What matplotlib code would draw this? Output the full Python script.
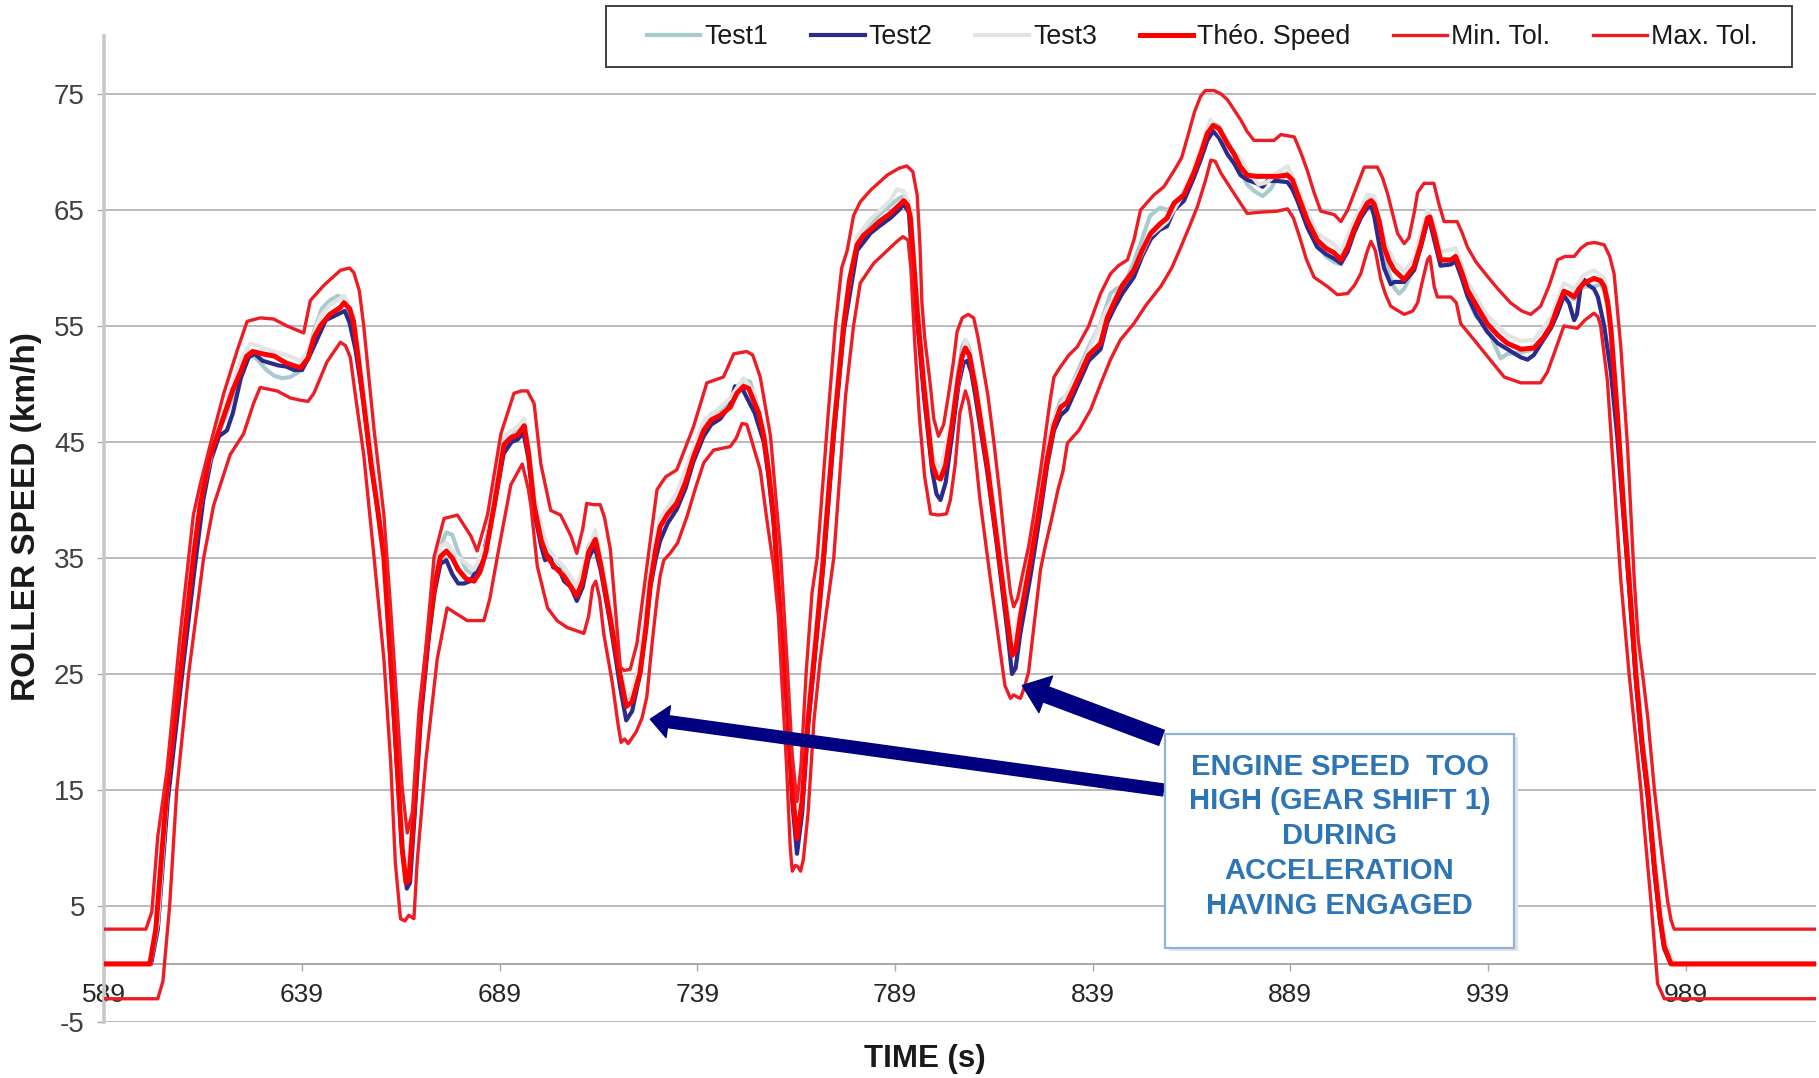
import matplotlib
matplotlib.use('Agg')
import matplotlib.pyplot as plt
from matplotlib.patches import Rectangle

plt.rcParams['font.family'] = ['Liberation Sans', 'DejaVu Sans']
plt.rcParams['axes.unicode_minus'] = False

# (time s, roller speed km/h)
THEO = [
    (589, 0), (600.5, 0), (602, 3), (604.8, 15), (608.2, 25), (611.5, 35), (613.2, 39.5),
    (615.5, 43.5), (617.5, 45.5), (619.5, 47.5), (621.5, 49.5), (623.4, 51), (625, 52.4),
    (626.5, 52.8), (629, 52.6), (632, 52.4), (635, 51.8), (638.6, 51.4), (640.5, 52.2),
    (642, 54), (643.6, 55), (646, 56), (648.7, 56.6), (649.6, 57), (651, 56.5), (652, 55.4),
    (653.3, 52), (654.6, 48.3), (656.5, 43), (658, 39.5), (659.7, 35.1), (661.4, 26.3),
    (663, 17.5), (664.3, 10), (665.3, 7), (666, 7.2), (667.3, 13), (669, 21.9), (671, 28.5),
    (672.5, 32.5), (674, 35.1), (675.5, 35.6), (677, 35), (678.5, 34), (680.5, 33.2),
    (682.5, 33), (684, 33.8), (685.5, 35.5), (687.6, 39.5), (690.1, 44.8), (692, 45.4),
    (693.5, 45.6), (695.2, 46.4), (696.3, 44), (697.7, 39.5), (699.5, 36.5), (701, 35.1),
    (703, 34.2), (705.3, 33.4), (707, 32.5), (708.5, 31.7), (710, 33), (711.5, 35.5),
    (713.2, 36.6), (714.5, 34.5), (716.9, 29.9), (719.5, 24.8), (721, 22.2), (722.5, 22.6),
    (724.5, 25.1), (726, 29), (727.1, 32.8), (728.5, 35.8), (729.6, 37.7), (731.5, 38.8),
    (733.8, 39.7), (736, 41.5), (738, 43.7), (740.6, 46), (742.5, 46.9), (744.8, 47.3),
    (747.3, 48), (749, 49.2), (750.7, 49.8), (752, 49.6), (753.2, 48.6), (754.5, 47.5),
    (755.8, 45.5), (757, 42.5), (758.3, 38.6), (760, 29.9), (761.7, 22.8), (763, 15),
    (764.2, 10.8), (765.5, 14), (767, 21), (769, 28), (770.9, 35), (772.3, 41), (773.5, 46),
    (776, 55), (777.5, 59), (779.4, 62), (781, 62.8), (782.8, 63.3), (785, 64), (787.8, 64.7),
    (790, 65.4), (791.2, 65.8), (792.2, 65.4), (792.9, 64.3), (794.6, 56.3), (796.3, 49.8),
    (798.4, 43.1), (799.5, 42), (800.5, 41.8), (801.8, 43), (803.4, 46.4), (805, 50.5),
    (806, 52.4), (806.8, 53.1), (807.8, 52.5), (809.3, 49.8), (812.3, 43.1), (814.8, 36.5),
    (817.3, 29.9), (818.6, 26.6), (819.5, 27), (820.7, 29.9), (823.3, 34.8), (825.8, 39.8),
    (827.5, 43.5), (829.2, 46.4), (830.9, 48), (832.5, 48.4), (835.1, 50.3), (838, 52.5),
    (841, 53.5), (842.7, 55.7), (844.4, 57), (846.5, 58.5), (849.4, 59.8), (851.5, 61.5),
    (853.7, 63), (856, 63.8), (857.8, 64.3), (859.6, 65.6), (862.1, 66.3), (864.6, 68.2),
    (866.5, 70), (868, 71.6), (869.5, 72.3), (871, 72), (873.1, 70.7), (874.8, 69.8),
    (876.4, 68.7), (878.1, 68), (880.5, 67.9), (883.2, 67.9), (885.7, 67.9), (888.3, 68),
    (889.5, 67.6), (890.8, 66.4), (893.3, 64.1), (895.8, 62.4), (898, 61.7), (900.1, 61.3),
    (901.8, 60.7), (903.5, 61.8), (905.1, 63.3), (906.8, 64.6), (908.5, 65.6), (909.5, 65.8),
    (910.2, 65.5), (911.5, 64), (912.7, 61.8), (914, 60.6), (915.3, 59.8), (917.8, 59),
    (920.3, 60.1), (922, 62), (923.7, 64.3), (924.3, 64.4), (925.4, 63), (927, 60.7),
    (929.6, 60.7), (930.8, 61), (932.5, 59.5), (933.8, 58.1), (936, 56.8), (938.8, 55.2),
    (941.5, 54.2), (943.9, 53.5), (947.3, 53), (950.6, 53.1), (953, 54), (954.9, 55),
    (956.5, 56.5), (958.2, 58), (959.5, 57.8), (960.8, 57.5), (962, 58.2), (963.3, 58.7),
    (965.8, 59.1), (967.5, 58.9), (968.4, 58.4), (969.3, 57), (970.1, 54.7), (971.7, 47.5),
    (973.4, 38.9), (974.7, 33.1), (976.4, 25), (978, 19), (979.4, 15), (981.1, 8.4),
    (982.5, 4), (983.6, 1.5), (985.3, 0), (1022, 0),
]

MAX_TOL = [
    (589, 3), (599.5, 3), (601, 4.5), (602.5, 11), (604.8, 16.6), (608.2, 28.5), (611.5, 38.7),
    (613.2, 41.3), (615.8, 44.8), (619.2, 49.2), (622.5, 52.8), (625.1, 55.4), (628.4, 55.7),
    (631.8, 55.6), (635.2, 55), (639.4, 54.4), (641.1, 57.2), (644.5, 58.5), (648.7, 59.8),
    (651, 60), (652.1, 59.6), (653.5, 58), (654.6, 55), (657.2, 46.1), (659.7, 38.7),
    (661.4, 30.7), (663.1, 21.9), (664.3, 15.3), (665.6, 11.3), (666.9, 13.1), (668.6, 21.9),
    (670.3, 27.2), (672.4, 35.1), (674.9, 38.4), (678.3, 38.7), (681.7, 36.9), (683.3, 35.6),
    (685.9, 38.7), (689.3, 45.7), (692.6, 49.2), (694.5, 49.4), (696, 49.4), (697.7, 48.3),
    (699.4, 43.1), (701.9, 39.1), (704.4, 38.7), (707, 36.9), (708.5, 35.4), (710, 37.5),
    (711, 39.7), (712.7, 39.6), (714.4, 39.6), (715.5, 38.5), (717, 35.7), (719.5, 25.6),
    (720.5, 25.3), (722, 25.4), (723.7, 27.6), (726.2, 34.2), (728.8, 40.9), (731, 42),
    (733.8, 42.6), (738, 46.3), (741.4, 50.1), (745.6, 50.6), (748.2, 52.6), (751.5, 52.8),
    (753, 52.5), (754.9, 50.6), (757.5, 45.5), (760, 35.7), (761.7, 26), (763, 18),
    (764.2, 14), (765.2, 17), (766.5, 25), (768, 32), (769.3, 35), (772, 47), (773.9, 55),
    (775.5, 60), (776.9, 61.5), (778.5, 64.5), (780.2, 65.7), (782.8, 66.7), (787, 68),
    (790, 68.6), (792, 68.8), (793.5, 68.3), (794.6, 66.3), (795.3, 62), (795.8, 57),
    (796.5, 54), (797.9, 50), (798.8, 47), (800, 45.5), (801.3, 46.5), (802.5, 49),
    (803.8, 52), (804.7, 54.5), (806, 55.7), (807.5, 56), (808.9, 55.7), (810, 54), (811, 52),
    (812.5, 49), (814, 45), (815.5, 40.5), (817, 35.5), (818.2, 32), (819, 30.8), (820, 31.5),
    (821.2, 33.5), (822.8, 36), (824, 38.5), (825.8, 42.5), (827, 45.5), (828.2, 48.5),
    (829.2, 50.6), (830.9, 51.5), (833, 52.5), (835.1, 53.2), (838, 55), (841, 57.8),
    (843.5, 59.5), (845.5, 60.2), (847.8, 60.7), (849.5, 62.5), (851.1, 65), (854.5, 66.3),
    (857, 67), (859.6, 68.4), (861.5, 69.5), (863, 71.3), (864.8, 73.5), (866.3, 74.8),
    (867.5, 75.3), (869.7, 75.3), (871.5, 75), (873.1, 74.5), (876.4, 72.8), (878, 71.8),
    (879.8, 71), (884.9, 71), (886.6, 71.5), (890, 71.3), (891.6, 70), (893.3, 68.4),
    (895, 66.5), (896.7, 64.9), (900.1, 64.6), (901.8, 64), (903.5, 65), (905.1, 66.4),
    (907.7, 68.7), (911, 68.7), (912.3, 67.8), (913.6, 66.4), (916.1, 63), (917.8, 62.1),
    (919, 62.6), (920.3, 64.7), (921.2, 66.5), (922.8, 67.3), (925.3, 67.3), (926.6, 65.5),
    (927.9, 64), (931.2, 64), (932.5, 63), (933.8, 61.8), (936, 60.5), (938.8, 59.3),
    (941.5, 58.2), (944.7, 57), (947.5, 56.3), (949.8, 56), (952.3, 56.7), (954.5, 58.5),
    (956.6, 60.7), (958.5, 61), (960.8, 61), (962.5, 61.7), (964.1, 62.1), (966, 62.2),
    (968.4, 62), (969.8, 61), (970.9, 59.5), (972.6, 53.2), (974.3, 44.6), (976, 33.1),
    (977, 28), (978.1, 25), (979.4, 21.3), (981.1, 15), (982.8, 10), (984.4, 5.5),
    (985.3, 3.8), (986.1, 3), (1022, 3),
]

MIN_TOL = [
    (589, -3), (602.5, -3), (603.8, -1.5), (605.5, 5), (607.3, 15), (610.3, 25), (614.1, 35),
    (616.6, 39.5), (620.8, 43.9), (624.2, 45.7), (626.7, 48.3), (628.4, 49.7), (632.7, 49.4),
    (636, 48.8), (638.6, 48.6), (640.5, 48.5), (642, 49.2), (645.3, 51.9), (648.7, 53.6),
    (650, 53.3), (651.2, 52.3), (652.5, 49), (654.6, 43.9), (657.2, 35.1), (659.7, 26.3),
    (661.4, 17.5), (662.6, 8.7), (663.9, 3.9), (665, 3.7), (666, 4.2), (667.3, 3.9),
    (668.1, 8.7), (670.3, 17.5), (673.2, 26.3), (675.7, 30.7), (678, 30.2), (680.8, 29.6),
    (685, 29.6), (686.5, 31.5), (688.4, 35.1), (691.8, 41.3), (694.7, 43.1), (696.2, 41),
    (696.9, 39.5), (698.5, 34.3), (701.1, 30.7), (703.5, 29.6), (706.1, 29), (710.3, 28.5),
    (711.5, 30), (712.5, 32.5), (713.3, 33), (714.3, 31.5), (715.3, 28.5), (717.5, 24.2),
    (719, 20.5), (719.7, 19.1), (720.6, 19.4), (721.5, 19), (723.5, 20), (725, 21.2),
    (726.2, 23), (727.5, 27.5), (728.8, 31.5), (729.6, 33.5), (730.5, 34.8), (732.1, 35.4),
    (734, 36.3), (736.4, 38.6), (738.5, 41), (740.6, 43.2), (743.1, 44.3), (747.3, 44.6),
    (748.8, 45.3), (750.3, 46.6), (751.5, 46.5), (752.4, 45.5), (754.9, 42.6), (756.5, 38.5),
    (758.3, 34.2), (759.5, 30), (760.4, 24.2), (761.5, 17.5), (762.5, 10), (763, 8),
    (763.8, 8.5), (764.4, 8.4), (765.1, 8), (765.8, 9), (767, 13), (768.5, 21), (770, 26),
    (771.5, 30), (773.5, 35), (775, 42), (776.5, 49), (778.5, 55), (780.2, 58.7),
    (783.6, 60.4), (787, 61.5), (789.5, 62.3), (791, 62.7), (792.3, 62.4), (793, 60),
    (794, 53.5), (795.2, 47), (796.5, 42), (798, 38.8), (800, 38.7), (802, 38.8), (803, 40),
    (804.2, 43), (805.4, 47.5), (806.8, 49.4), (807.6, 48.5), (808.5, 46.5), (810.5, 40),
    (813, 33.5), (815, 28.5), (816.8, 24), (818.2, 22.9), (819, 23.2), (820, 23),
    (820.7, 22.9), (821.7, 23.8), (822.8, 25.2), (825.8, 34), (827, 36), (828.7, 38.5),
    (830.3, 41), (831.5, 42.5), (832.6, 44.9), (835.5, 46), (838.5, 47.8), (841, 50),
    (843.5, 52.1), (846, 53.8), (849.4, 55.2), (852.5, 56.8), (856.2, 58.4), (859, 60),
    (861.3, 61.8), (863.5, 63.6), (865.5, 65.3), (867.5, 67.5), (868.9, 69.3), (870, 69.2),
    (871.4, 68.2), (874.8, 66.4), (878.1, 64.7), (881, 64.8), (885.7, 64.9), (888.3, 65.1),
    (889.8, 64.3), (891.6, 62.4), (893, 60.8), (895, 59.2), (898.4, 58.4), (900.9, 57.7),
    (903.5, 57.8), (905.2, 58.5), (906.8, 59.5), (908.5, 61.5), (909.4, 62.3), (910.5, 61.5),
    (911.9, 59), (913, 57.8), (914.4, 56.7), (917.8, 56), (920, 56.3), (921.2, 57),
    (922.5, 59), (923.7, 60.7), (924.3, 61), (925.4, 58.4), (926.2, 57.5), (929.6, 57.5),
    (931, 57), (932.1, 55.2), (935.5, 53.8), (938.8, 52.4), (943.1, 50.6), (947.3, 50.1),
    (952.3, 50.1), (954, 51), (955.7, 52.6), (958.2, 55), (961.6, 54.8), (963.5, 55.5),
    (965.8, 56.1), (966.8, 55.8), (967.5, 55), (969.2, 50.3), (970.9, 41.7), (972.6, 33.1),
    (974.7, 25), (976.2, 20), (977.7, 15), (979, 10), (980.2, 5.5), (981.9, -1.7),
    (983.6, -3), (1022, -3),
]

TEST1 = [
    (589, 0), (600.8, 0), (602.5, 3), (605, 14.5), (608.5, 25), (611.8, 34.5), (614, 40.5),
    (616, 44), (618, 46), (620, 47.5), (622, 49.5), (624, 51.5), (626, 52.6), (628, 52),
    (630, 51.2), (632, 50.7), (634, 50.5), (636, 50.6), (638, 51), (640, 52), (642, 54.5),
    (644, 56.5), (646, 57.2), (648, 57.6), (649.5, 57.4), (651, 56.2), (652.5, 53.5),
    (654.6, 49), (656.5, 44), (658, 40), (659.7, 35.5), (661.4, 27), (663, 18), (664.3, 10.5),
    (665.5, 7.5), (666.5, 8), (667.5, 13.5), (669, 22), (671, 29), (672.5, 33.5), (674, 36),
    (675.5, 37.2), (677, 37), (678.5, 35.5), (680.5, 34), (682.5, 33.5), (684, 34.2),
    (685.5, 36), (687.6, 40), (690, 45), (692, 45.8), (694, 46.2), (695.2, 46.6), (696.3, 44.5),
    (697.7, 40), (699.5, 37), (701, 35.8), (703, 35), (705.3, 34), (707, 33), (708.5, 32.3),
    (710, 33.5), (711.5, 36), (713.2, 37), (714.5, 35), (716.9, 30.5), (719.5, 25.3),
    (721, 22.8), (722.5, 23.2), (724.5, 26), (726, 30), (727.1, 33.5), (728.5, 36.5),
    (729.6, 38.2), (731.5, 39.3), (733.8, 40.2), (736, 42), (738, 44.2), (740.6, 46.5),
    (742.5, 47.4), (744.8, 47.8), (747.3, 48.6), (749, 49.8), (751, 50.3), (752.3, 50.2),
    (753.5, 49), (755, 47), (756.5, 44), (758.3, 39), (760, 30.5), (761.7, 23.5), (763, 15.5),
    (764.2, 11.5), (765.5, 14.5), (767, 21.5), (769, 28.5), (770.9, 35.5), (773.5, 46.5),
    (776, 55.5), (779.4, 62.5), (782.8, 63.8), (785, 64.6), (787.8, 65.4), (790, 66),
    (791.2, 66.2), (792.2, 65.8), (792.9, 64.8), (794.6, 57), (796.3, 50.5), (798.4, 43.8),
    (799.5, 42.6), (800.5, 42.4), (801.8, 43.6), (803.4, 47), (805, 51.2), (806, 53.2),
    (806.8, 53.8), (807.8, 53), (809.3, 50.4), (812.3, 43.6), (814.8, 37), (817.3, 30.5),
    (818.6, 27.4), (819.5, 27.8), (820.7, 30.6), (823.3, 35.5), (825.8, 40.5), (827.5, 44.5),
    (829.2, 47), (830.9, 48.6), (832.5, 49), (835.1, 51), (838, 53.2), (841, 55.2),
    (843.5, 57.8), (845, 58.2), (847, 58.5), (849.4, 60.5), (851.5, 62.5), (853.5, 64.5),
    (856, 65.2), (858, 65), (860, 65.5), (862.1, 66.6), (864.6, 68.5), (866.5, 70.3),
    (868, 71.8), (869.5, 72.5), (871, 72.2), (873.1, 70.9), (874.8, 69.8), (876.4, 68.4),
    (878.1, 67.2), (880, 66.6), (882, 66.2), (884, 66.8), (885.7, 67.8), (888.3, 68.2),
    (889.5, 67.8), (890.8, 66.6), (893.3, 64), (895.8, 62), (898, 61), (900.1, 60.5),
    (901.8, 60.3), (903.5, 61.8), (905.1, 63.6), (906.8, 65), (908.5, 66), (909.5, 66),
    (910.2, 65.6), (911.5, 64), (912.7, 61.5), (914, 59.5), (915.3, 58.3), (916.5, 57.8),
    (917.8, 58.2), (920.3, 60), (922, 62.2), (923.7, 64.6), (924.3, 64.6), (925.4, 63),
    (927, 60.5), (929.6, 60.4), (930.8, 60.6), (932.5, 59), (933.8, 57.5), (936, 55.8),
    (938.8, 55), (940.5, 53.5), (942.2, 52.2), (943.9, 52.6), (947.3, 52.7), (950.6, 53),
    (953, 54), (954.9, 55), (956.5, 56.4), (958.2, 57.8), (959.5, 57.6), (960.8, 57.3),
    (962, 58), (963.3, 58.4), (965.8, 58.4), (967.5, 58.6), (968.4, 58), (969.3, 56.5),
    (970.1, 54.2), (971.7, 47), (973.4, 38.5), (974.7, 32.5), (976.4, 24.5), (978, 18.5),
    (979.4, 14.5), (981.1, 8), (982.5, 3.8), (983.6, 1.3), (985.3, 0), (1022, 0),
]

TEST2 = [
    (589, 0), (600.8, 0), (602.5, 3), (605, 14), (608.5, 24.5), (611.8, 34), (614, 40),
    (616, 43.5), (618, 45.5), (620, 46), (621.5, 47.5), (623.5, 50.5), (625.5, 52.3),
    (627, 52.6), (629, 52), (631, 51.8), (633, 51.6), (635, 51.5), (637, 51.2), (639, 51.2),
    (641, 52.5), (643, 54), (645, 55.5), (648, 56), (649.8, 56.3), (651, 55.3), (652.5, 53),
    (654.6, 48.3), (656.5, 43), (658, 39.5), (659.7, 35), (661.4, 26), (663, 17), (664.3, 10),
    (665.5, 6.5), (666.3, 7), (667.5, 13), (669, 21), (671, 28), (672.5, 32), (674, 34.5),
    (675.5, 34.8), (677, 33.6), (678.5, 32.8), (680, 32.8), (681.5, 33), (683, 33.8),
    (685, 35.5), (687.6, 39.5), (690, 44), (692, 45), (693.5, 45.2), (695, 45.8), (696.3, 43.5),
    (697.7, 39), (699.5, 36), (700.5, 34.8), (701.5, 35.6), (702.5, 34.2), (704, 34),
    (705.3, 33), (707, 32.5), (708.5, 31.3), (710, 32.5), (711.5, 35), (713, 36), (714.5, 34),
    (716.9, 29.5), (719.5, 23.8), (721, 21), (722.5, 21.8), (724.5, 25), (726, 29),
    (727.1, 32.5), (728.5, 35), (729.6, 36.5), (731.5, 38), (733.8, 39.2), (736, 41),
    (738, 43.3), (740.6, 45.5), (742.5, 46.5), (744.8, 47), (747.3, 48.2), (748.5, 49.8),
    (750.5, 49.5), (752, 48.5), (753.5, 47.5), (755.8, 45), (757, 42), (758.3, 38), (760, 29.5),
    (761.7, 22), (763, 14), (764.2, 9.5), (765.5, 13), (767, 20.5), (769, 27.5), (770.9, 34.5),
    (773.5, 45.5), (776, 54.5), (779.4, 61.5), (782.8, 63), (785, 63.6), (787.8, 64.3),
    (790, 65), (791.2, 65.5), (792.5, 64.8), (793.5, 60), (794.6, 55.5), (796.3, 49),
    (798.4, 42.5), (799.5, 40.5), (800.5, 40), (801.8, 41.5), (803.4, 45.5), (805, 49.8),
    (806.3, 51.8), (807.3, 52), (808.3, 51), (809.3, 49), (812.3, 42.5), (814.8, 36),
    (817.3, 29), (818.6, 25), (819.5, 25.5), (820.7, 28.5), (822, 31), (823.3, 33.5),
    (825.8, 39), (827.5, 43), (829.2, 46), (830.9, 47.3), (832.5, 47.8), (835.1, 49.8),
    (838, 52), (841, 53), (842.7, 55.3), (844.4, 56.5), (846.5, 57.8), (849.4, 59.2),
    (851.5, 61), (853.7, 62.5), (856, 63.3), (857.8, 63.6), (859.6, 65), (862.1, 65.8),
    (864.6, 67.8), (866.5, 69.5), (868, 71), (869.5, 71.8), (871, 71.2), (873.1, 69.8),
    (874.8, 69), (876.4, 68), (878.1, 67.6), (880.5, 67.3), (882, 67), (883.2, 67.5),
    (885.7, 67.5), (888.3, 67.4), (889.5, 66.8), (890.8, 65.8), (893.3, 63.5), (895.8, 61.8),
    (898, 61.2), (900.1, 60.8), (901.8, 60.4), (903.5, 61.4), (905.1, 63), (906.8, 64.3),
    (908.5, 65.2), (909.5, 65.3), (910.2, 64.5), (911.5, 62), (912.7, 60), (914.4, 58.6),
    (915.3, 58.8), (917.8, 58.8), (920.3, 59.8), (922, 61.8), (923.7, 64), (924.3, 64),
    (925.4, 62.4), (927, 60.2), (929.6, 60.3), (930.8, 60.6), (932.5, 59), (933.8, 57.6),
    (936, 56), (938.8, 54.5), (941.5, 53.5), (943.9, 53), (947.3, 52.3), (949, 52.1),
    (950.6, 52.5), (953, 53.8), (954.9, 54.8), (956.5, 56), (958.2, 57.6), (959.5, 57),
    (960.8, 55.5), (961.5, 56), (962.5, 58.5), (963.3, 59), (964.5, 58.5), (965.8, 58.2),
    (966.8, 57.5), (968.4, 55), (970.1, 51), (971.7, 45.5), (973.4, 38), (974.7, 32.5),
    (976.4, 24.5), (978, 18.5), (979.4, 14.5), (981.1, 8), (982.5, 3.8), (983.6, 1.3),
    (985.3, 0), (1022, 0),
]

TEST3 = [
    (589, 0), (600.6, 0), (602.5, 3.5), (605, 15.5), (608.3, 26), (611.6, 36), (614, 41),
    (617.5, 46), (620, 48.5), (623.4, 52), (626, 53.5), (630, 53), (635, 52.5), (638.6, 52),
    (640.5, 52.8), (643.6, 55.8), (646, 56.8), (649.6, 57.6), (652, 56), (654.6, 49), (658, 40),
    (661.4, 27), (664.3, 10.5), (665.6, 7.5), (667.3, 14), (669, 22.5), (671, 29), (674, 36),
    (675.5, 36.3), (678, 35.2), (682.5, 34), (685.5, 36), (687.6, 40.2), (690.1, 45.5),
    (693.5, 46.3), (695.2, 47), (697.7, 40.2), (701, 35.8), (705.3, 34.2), (708.5, 32.5),
    (711, 35.2), (713.2, 37.4), (716.9, 30.6), (719.5, 25.5), (721, 23), (722.5, 23.4),
    (724.5, 25.8), (727.1, 33.5), (729.6, 38.4), (733.8, 40.6), (738, 44.4), (740.6, 46.8),
    (744.8, 48), (747.3, 48.8), (750.7, 50.5), (753.2, 49.3), (755.8, 46.2), (758.3, 39.3),
    (760, 30.6), (761.7, 23.5), (764.2, 11.4), (765.5, 14.7), (767, 21.7), (770.9, 35.7),
    (773.5, 46.7), (776, 55.7), (779.4, 62.7), (782.8, 64.2), (787.8, 65.8), (789.5, 66.8),
    (791.2, 66.6), (792.9, 65), (794.6, 57), (796.3, 50.5), (798.4, 43.8), (800.5, 42.5),
    (803.4, 47), (806.8, 53.8), (809.3, 50.5), (812.3, 43.8), (814.8, 37.2), (817.3, 30.6),
    (818.6, 27.3), (820.7, 30.6), (823.3, 35.5), (825.8, 40.5), (829.2, 47.1), (832.5, 49.2),
    (835.9, 51.2), (839.3, 53.9), (842.7, 56.5), (845.2, 57.8), (849.4, 59.8), (853.6, 62.8),
    (857.8, 64), (862.1, 66.5), (865.4, 69.4), (868.8, 72.8), (873.9, 70.3), (876.4, 69.4),
    (878.1, 68.4), (881, 67.2), (883.2, 67.4), (885.7, 68.2), (888.3, 68.8), (890.8, 67),
    (893.3, 64.8), (895.8, 63), (900.1, 62), (901.8, 61.4), (905.1, 64), (908.5, 66.3),
    (910.2, 66.2), (912.7, 62.5), (915.3, 60.5), (917.8, 59.7), (920.3, 60.8), (923.7, 65),
    (925.4, 63.7), (927, 61.4), (930.8, 61.7), (933.8, 58.8), (938.8, 55.9), (943.9, 54.2),
    (947.3, 53.7), (950.6, 53.8), (954.9, 55.7), (958.2, 58.7), (960.8, 58.2), (963.3, 59.4),
    (965.8, 59.8), (968.4, 59.1), (970.1, 55.4), (971.7, 48.2), (973.4, 39.6), (974.7, 33.8),
    (976.4, 25.7), (978, 19.7), (979.4, 15.7), (981.1, 9.1), (983.6, 2.2), (985.3, 0.5),
    (986.5, 0), (1022, 0),
]

X_TICKS = [589, 639, 689, 739, 789, 839, 889, 939, 989]
Y_TICKS = [-5, 5, 15, 25, 35, 45, 55, 65, 75]

NOTE = 'ENGINE SPEED  TOO\nHIGH (GEAR SHIFT 1)\nDURING\nACCELERATION\nHAVING ENGAGED'
# arrows: (tail, head) in data coords
ARROW_LOW = ((856.9, 15.0), (727.1, 21.1))
ARROW_HIGH = ((856.4, 19.5), (821.2, 24.0))

fig = plt.figure(figsize=(18.19, 10.78), dpi=100)
ax = fig.add_axes([0.0574, 0.052, 0.9410, 0.9146])

series = [
    (TEST1, 'Test1', '#a9cbcf', 3.0),
    (TEST2, 'Test2', '#2b2b8c', 3.0),
    (TEST3, 'Test3', '#e4e4e4', 3.0),
    (THEO, 'Théo. Speed', '#ff0000', 3.6),
    (MIN_TOL, 'Min. Tol.', '#ee1c25', 2.4),
    (MAX_TOL, 'Max. Tol.', '#ee1c25', 2.4),
]
handles = []
for i, (pts, label, color, lw) in enumerate(series):
    t, v = zip(*pts)
    ln, = ax.plot(t, v, color=color, lw=lw, label=label, zorder=3 + i * 0.1,
                  solid_joinstyle='round')
    handles.append(ln)

ax.set_xlim(589, 1022)
ax.set_ylim(-5, 80)
ax.set_xticks(X_TICKS)
ax.set_yticks(Y_TICKS)
ax.grid(axis='y', color='#b4b4b4', lw=1.3)

for side in ['top', 'right']:
    ax.spines[side].set_visible(False)
ax.spines['left'].set_color('#c8c8c8')
ax.spines['left'].set_linewidth(2.6)
ax.spines['bottom'].set_position(('data', 0))
ax.spines['bottom'].set_color('#a8a8a8')
ax.spines['bottom'].set_linewidth(1.4)

ax.tick_params(axis='x', direction='out', length=5, width=1, color='#a8a8a8',
               pad=9, labelsize=19, labelcolor='#262626')
ax.tick_params(axis='y', direction='out', length=5, width=1, color='#a8a8a8',
               pad=9, labelsize=20, labelcolor='#404040')

fig.text(0.0143, 0.521, 'ROLLER SPEED (km/h)', rotation=90, ha='center', va='center',
         fontsize=24, fontweight='bold', color='#1a1a1a')
fig.text(0.5085, 0.0175, 'TIME (s)', ha='center', va='center', fontsize=22.5,
         fontweight='bold', color='#1a1a1a')

# legend: frame drawn separately so its size matches the original
fig.patches.append(Rectangle((0.3331, 0.9378), 0.652, 0.0566, transform=fig.transFigure,
                             facecolor='white', edgecolor='#404040', lw=1.4, zorder=4))
leg = fig.legend(handles=handles, loc='center', bbox_to_anchor=(0.6608, 0.9657),
                 borderaxespad=0, borderpad=0, ncol=6, fontsize=19.3, frameon=False,
                 handlelength=2.0, handletextpad=0.15, columnspacing=1.6)
leg.set_zorder(5)
for txt in leg.get_texts():
    txt.set_color('#1a1a1a')

# note box and arrows
fig.patches.append(Rectangle((0.6425, 0.1176), 0.1918, 0.1985, transform=fig.transFigure,
                             facecolor='#e4e4e4', edgecolor='none', zorder=4))
fig.patches.append(Rectangle((0.6405, 0.1206), 0.1918, 0.1985, transform=fig.transFigure,
                             facecolor='white', edgecolor='#8fb3d9', lw=1.6, zorder=5))
fig.text(0.7364, 0.2242, NOTE, ha='center', va='center', multialignment='center',
         fontsize=21, fontweight='bold', color='#2e75b6', linespacing=1.31, zorder=6)

for (tail, head), tw, hw, hl in [(ARROW_LOW, 0.86, 2.3, 1.3), (ARROW_HIGH, 1.15, 2.8, 1.8)]:
    ax.annotate('', xy=head, xytext=tail,
                arrowprops=dict(arrowstyle=f'simple,tail_width={tw},head_width={hw},head_length={hl}',
                                color='#000080', mutation_scale=10, shrinkA=0, shrinkB=0),
                zorder=6)

fig.savefig('out.png', dpi=100)
